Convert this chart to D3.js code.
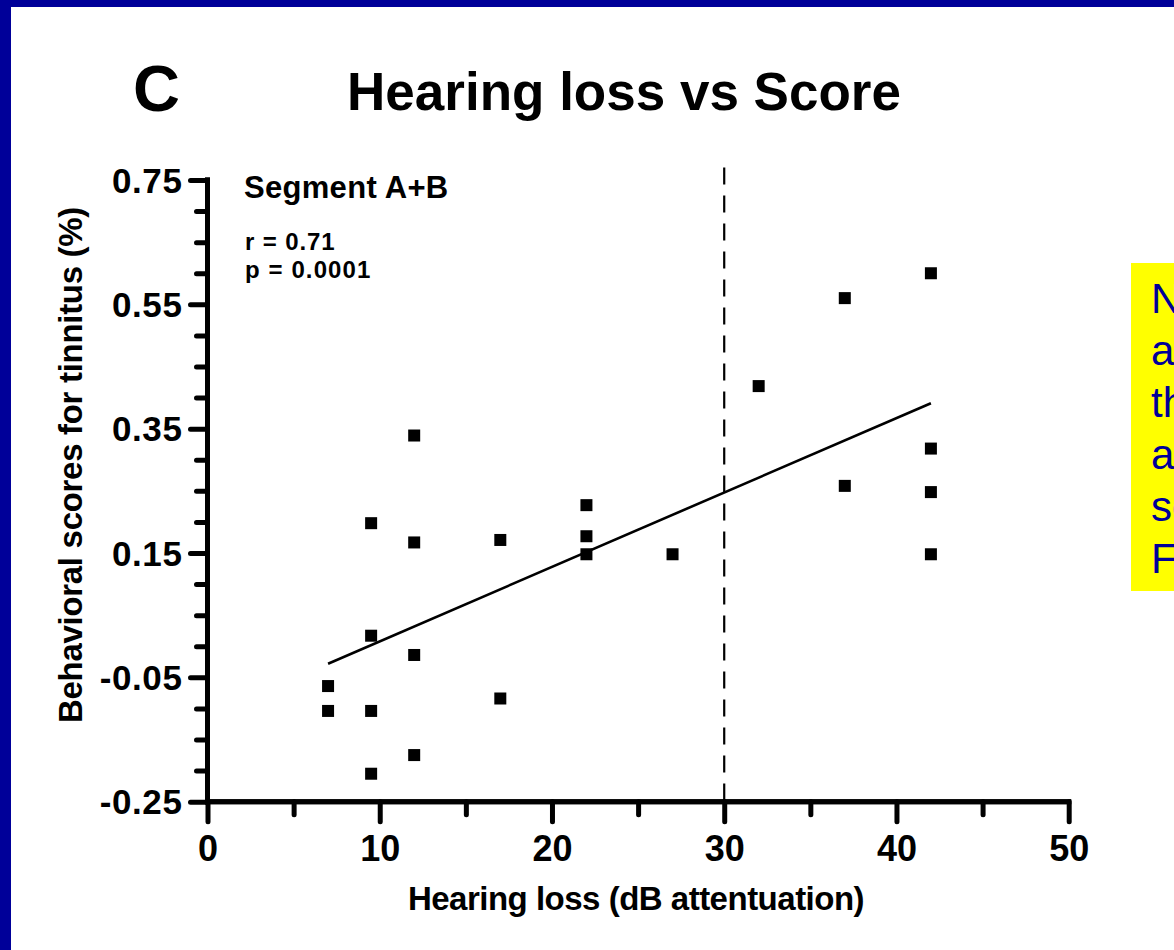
<!DOCTYPE html>
<html>
<head>
<meta charset="utf-8">
<script src="https://cdn.jsdelivr.net/npm/d3@7"></script>
<style>
  body { margin: 0; background: #fff; overflow: hidden; }
  text { font-family: Arial, "Liberation Sans", sans-serif; font-weight: bold; fill: #000; }
  text.note { font-weight: normal; }
</style>
</head>
<body>
<div id="container"></div>
<script>
// Data ---------- ---------- ----------
let hearingLoss = [7, 7, 9.5, 9.5, 9.5, 9.5, 12, 12, 12, 12, 17, 17, 22, 22, 22, 27, 32, 37, 37, 42, 42, 42, 42];
let scores = [-0.064, -0.104, 0.198, 0.017, -0.104, -0.205, 0.339, 0.167, -0.014, -0.175, 0.171, -0.084,
              0.227, 0.177, 0.148, 0.148, 0.4185, 0.560, 0.258, 0.600, 0.318, 0.248, 0.148];
let fitX = [7, 42], fitY = [-0.028, 0.391];
let cutoffX = 30, cutoffTop = 0.77;
let xTicks = [0, 10, 20, 30, 40, 50], xMinor = [5, 15, 25, 35, 45];
let yTicks = [-0.25, -0.05, 0.15, 0.35, 0.55, 0.75];
let yMinor = [-0.2, -0.15, -0.1, 0, 0.05, 0.1, 0.2, 0.25, 0.3, 0.4, 0.45, 0.5, 0.6, 0.65, 0.7];
let stats = ["Segment A+B", "r = 0.71", "p = 0.0001"];
let noteLines = ["Note:", "animals", "that", "are", "scored", "For"];

// Hard Code values ---------- ---------- ----------
let canvasW = 1174, canvasH = 950;
let blue = "#000099";
let x0 = 207.5, x1 = 1068.7, yTop = 180, yBot = 801.7;
let fmtY = d => d3.format(".2f")(d).replace("\u2212", "-");

let svg = d3.select("#container").append("svg").attr("width", canvasW).attr("height", canvasH);
svg.append("rect").attr("width", canvasW).attr("height", canvasH).attr("fill", "#fff");

// Slide frame
svg.append("rect").attr("x", 0).attr("y", 0).attr("width", canvasW).attr("height", 7).attr("fill", blue);
svg.append("rect").attr("x", 0).attr("y", 0).attr("width", 11).attr("height", canvasH).attr("fill", blue);

// Titles
svg.append("text").attr("x", 133).attr("y", 111).attr("font-size", 65).text("C");
svg.append("text").attr("x", 624).attr("y", 110).attr("text-anchor", "middle").attr("font-size", 53).text("Hearing loss vs Score");

// Scales
let xScale = d3.scaleLinear().domain([0, 50]).range([x0, x1]);
let yScale = d3.scaleLinear().domain([-0.25, 0.75]).range([yBot, yTop]);

// X axis
let gx = svg.append("g").attr("transform", "translate(0," + yBot + ")");
gx.call(d3.axisBottom(xScale).tickValues(xTicks).tickSize(20).tickPadding(14).tickFormat(d3.format("d")));
gx.append("g").call(d3.axisBottom(xScale).tickValues(xMinor).tickSize(13).tickFormat(""));

// Y axis
let gy = svg.append("g").attr("transform", "translate(" + x0 + ",0)");
gy.call(d3.axisLeft(yScale).tickValues(yTicks).tickSize(17).tickPadding(8).tickFormat(fmtY));
gy.append("g").call(d3.axisLeft(yScale).tickValues(yMinor).tickSize(11).tickFormat(""));

svg.selectAll(".domain").attr("stroke", "#000").attr("stroke-width", 5).attr("stroke-linecap", "square");
gx.selectAll(".domain").attr("d", "M" + x0 + ",0H" + x1);
gy.selectAll(".domain").attr("d", "M0," + yTop + "V" + yBot);
svg.selectAll(".tick line").attr("stroke", "#000").attr("stroke-width", 5).attr("stroke-linecap", "round");
gx.selectAll(".tick text").attr("font-size", 36).attr("font-family", "Arial, 'Liberation Sans', sans-serif").attr("font-weight", "bold");
gy.selectAll(".tick text").attr("font-size", 35).attr("font-family", "Arial, 'Liberation Sans', sans-serif").attr("font-weight", "bold")
    .attr("dy", "0.35em").attr("letter-spacing", 0.6);

// Axis titles
svg.append("text").attr("x", 636).attr("y", 910).attr("text-anchor", "middle").attr("font-size", 33)
    .attr("letter-spacing", -0.5).text("Hearing loss (dB attentuation)");
svg.append("text").attr("transform", "translate(82,465) rotate(-90)").attr("text-anchor", "middle").attr("font-size", 33)
    .attr("letter-spacing", -0.3).text("Behavioral scores for tinnitus (%)");

// Cut-off line at 30 dB
svg.append("line").attr("x1", xScale(cutoffX)).attr("x2", xScale(cutoffX))
    .attr("y1", yScale(cutoffTop)).attr("y2", yBot)
    .attr("stroke", "#000").attr("stroke-width", 2.2).attr("stroke-dasharray", "17,11");

// Regression line
let linePath = d3.line().x(d => xScale(d[0])).y(d => yScale(d[1]));
svg.append("path").datum(fitX.map((d, i) => [d, fitY[i]]))
    .attr("d", linePath).attr("fill", "none").attr("stroke", "#000").attr("stroke-width", 2.6);

// Points
let sq = 12;
svg.selectAll(".pt").data(hearingLoss).enter().append("rect").attr("class", "pt")
    .attr("x", (d, i) => xScale(d) - sq / 2).attr("y", (d, i) => yScale(scores[i]) - sq / 2)
    .attr("width", sq).attr("height", sq).attr("fill", "#000");

// Stats labels
svg.append("text").attr("x", 244).attr("y", 198).attr("font-size", 31).attr("letter-spacing", 0.3).text(stats[0]);
svg.append("text").attr("x", 245).attr("y", 250).attr("font-size", 24).attr("letter-spacing", 0.9).text(stats[1]);
svg.append("text").attr("x", 245).attr("y", 278).attr("font-size", 24).attr("letter-spacing", 1.1).text(stats[2]);

// Note box (cut at the right edge, as in the slide)
svg.append("rect").attr("x", 1131).attr("y", 263).attr("width", 60).attr("height", 328).attr("fill", "#ffff00");
svg.selectAll(".note").data(noteLines).enter().append("text").attr("class", "note")
    .attr("x", 1151).attr("y", (d, i) => 313 + i * 52)
    .attr("font-size", 42).style("fill", blue).text(d => d);
</script>
</body>
</html>
